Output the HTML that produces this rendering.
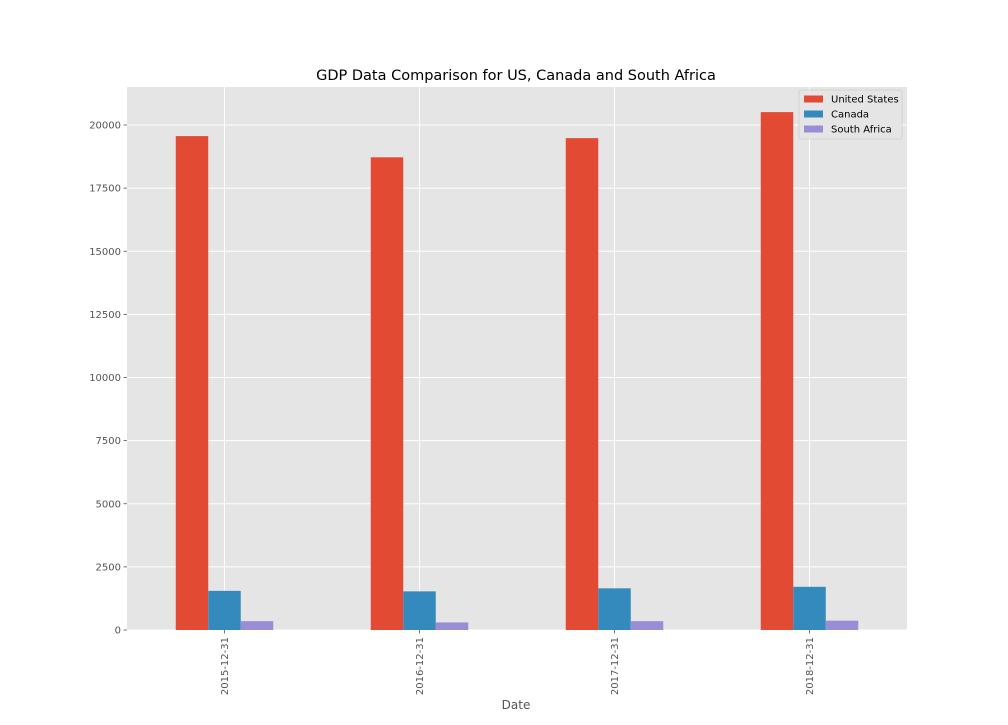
<!DOCTYPE html>
<html><head><meta charset="utf-8"><style>
body{margin:0;background:#fff;}
svg text{font-family:"DejaVu Sans","Liberation Sans",sans-serif;}
</style></head><body>
<svg id="chart" width="1008" height="720" xmlns="http://www.w3.org/2000/svg">
<rect x="127" y="87" width="780" height="543" fill="#e5e5e5"/>
<g id="grid"></g><g id="bars"></g><g id="axes"></g>
<text x="516" y="80" text-anchor="middle" font-size="14.5" fill="#000">GDP Data Comparison for US, Canada and South Africa</text>
<text x="516" y="709" text-anchor="middle" font-size="12" fill="#555">Date</text>
<g>
<rect x="799" y="90" width="103" height="49" fill="#e5e5e5" stroke="#ccc" stroke-width="0.8" rx="2" opacity="0.9"/>
<g id="legend"></g>
</g>
</svg>
<script>
const categories=["2015-12-31","2016-12-31","2017-12-31","2018-12-31"];
const seriesNames=["United States","Canada","South Africa"];
const usValues=[19560,18720,19480,20510];
const canadaValues=[1550,1530,1650,1710];
const saValues=[350,300,350,370];
const yTicks=[0,2500,5000,7500,10000,12500,15000,17500,20000];
const colors=["#e24a33","#348abd","#988ed5"];
const series=[usValues,canadaValues,saValues];
const NS="http://www.w3.org/2000/svg";
const L=127,R=907,T=87,B=630;
const y=v=>B-v*(505/20000);
const step=(R-L)/categories.length;
const xc=i=>L+step*(i+0.5);
const bw=step*0.5/3;
function mk(tag,attrs,parent,txt){const e=document.createElementNS(NS,tag);for(const k in attrs)e.setAttribute(k,attrs[k]);if(txt!==undefined)e.textContent=txt;parent.appendChild(e);return e;}
const grid=document.getElementById('grid'),bars=document.getElementById('bars'),axes=document.getElementById('axes'),leg=document.getElementById('legend');
yTicks.forEach(t=>{
 const g=mk('line',{x1:L,x2:R,y1:y(t),y2:y(t),stroke:'#fff','stroke-width':1},grid);
 
 
 const tk=mk('line',{x1:L-3.5,x2:L,y1:y(t),y2:y(t),stroke:'#555','stroke-width':0.8},axes);
 
 
 const lb=mk('text',{x:L-6,y:y(t)+3.5,'text-anchor':'end','font-size':10,fill:'#555'},axes,String(t));
 
 
});
categories.forEach((c,i)=>{
 const g=mk('line',{x1:xc(i),x2:xc(i),y1:T,y2:B,stroke:'#fff','stroke-width':1},grid);
 
 
 const tk=mk('line',{x1:xc(i),x2:xc(i),y1:B,y2:B+3.5,stroke:'#555','stroke-width':0.8},axes);
 
 
 const lb=mk('text',{x:0,y:0,'text-anchor':'end','font-size':10,fill:'#555',transform:`translate(${xc(i)+3.5},${B+7}) rotate(-90)`},axes,c);
 
 
 series.forEach((s,j)=>{
  const x0=xc(i)-1.5*bw+j*bw;
  const r=mk('rect',{x:x0,y:y(s[i]),width:bw,height:B-y(s[i]),fill:colors[j]},bars);
  
  
 });
});
seriesNames.forEach((n,j)=>{
 const yy=99+j*15;
 const p=mk('rect',{x:804,y:yy-3.5,width:19,height:7,fill:colors[j]},leg);
 
 
 const t=mk('text',{x:831,y:yy+3.5,'font-size':10,fill:'#000'},leg,n);
 
 
});
</script>
</body></html>
